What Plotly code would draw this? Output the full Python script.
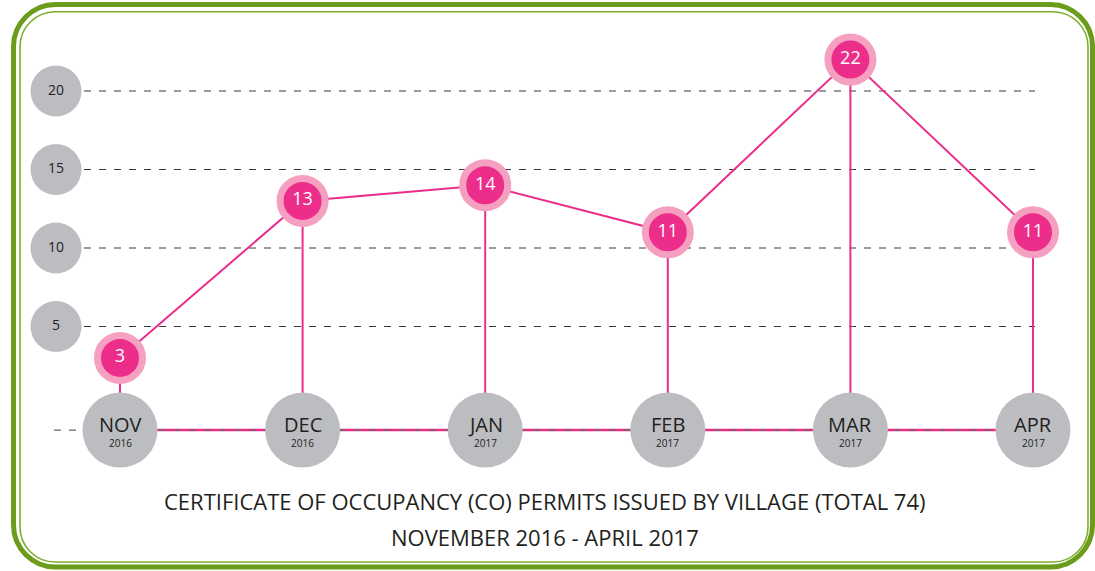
import plotly.graph_objects as go

# ---- data ----
months = ["NOV", "DEC", "JAN", "FEB", "MAR", "APR"]
years = ["2016", "2016", "2017", "2017", "2017", "2017"]
permits = [3, 13, 14, 11, 22, 11]
y_ticks = [5, 10, 15, 20]
title_1 = "CERTIFICATE OF OCCUPANCY (CO) PERMITS ISSUED BY VILLAGE (TOTAL 74)"
title_2 = "NOVEMBER 2016 - APRIL 2017"

# ---- layout constants ----
W, H = 1095, 571
X0_PX, X_STEP = 120.0, 182.6       # pixel centre of first category, step
Y0_PX, Y_STEP = 405.0, 15.7        # pixel of value 0, px per unit
BASE = -1.6                        # value level of category axis line

def px_to_x(px):
    return (px - X0_PX) / X_STEP

def py_to_y(py):
    return (Y0_PX - py) / Y_STEP

xs = list(range(len(months)))
PINK = "#EC2D8A"
PINK_LIGHT = "#F5A0C0"
GREY = "#BCBDC0"
DARK = "#231F20"
FONT = "Open Sans"

fig = go.Figure()

# stems
sx, sy = [], []
for x, v in zip(xs, permits):
    sx += [x, x, None]
    sy += [BASE, v, None]
fig.add_trace(go.Scatter(x=sx, y=sy, mode="lines", line=dict(color=PINK, width=2),
                         hoverinfo="skip", showlegend=False))
# connecting line
fig.add_trace(go.Scatter(x=xs, y=permits, mode="lines", line=dict(color=PINK, width=2),
                         hoverinfo="skip", showlegend=False))
# baseline pink
fig.add_trace(go.Scatter(x=[xs[0], xs[-1]], y=[BASE, BASE], mode="lines",
                         line=dict(color=PINK, width=2.5), hoverinfo="skip", showlegend=False))
# baseline dashed grey
fig.add_trace(go.Scatter(x=[px_to_x(54), xs[-1]], y=[BASE, BASE], mode="lines",
                         line=dict(color="#666666", width=1.2, dash="7px,8px"),
                         hoverinfo="skip", showlegend=False))
# category circles
fig.add_trace(go.Scatter(x=xs, y=[BASE] * len(xs), mode="markers",
                         marker=dict(size=75, color=GREY, line=dict(width=0)),
                         hoverinfo="skip", showlegend=False))
# y tick circles
fig.add_trace(go.Scatter(x=[px_to_x(56)] * len(y_ticks), y=y_ticks, mode="markers+text",
                         text=[str(t) for t in y_ticks], textposition="middle center",
                         textfont=dict(family=FONT, size=14, color=DARK),
                         marker=dict(size=51, color=GREY, line=dict(width=0)),
                         hoverinfo="skip", showlegend=False))
# points
fig.add_trace(go.Scatter(x=xs, y=permits, mode="markers+text",
                         text=[str(v) for v in permits], textposition="middle center",
                         textfont=dict(family=FONT, size=18, color="white"),
                         marker=dict(size=45, color=PINK, line=dict(width=7, color=PINK_LIGHT)),
                         hoverinfo="skip", showlegend=False))

# gridlines
shapes = []
for t in y_ticks:
    shapes.append(dict(type="line", xref="x", yref="y", x0=px_to_x(84), x1=px_to_x(1035),
                       y0=t, y1=t, layer="below",
                       line=dict(color="#3A3A3A", width=1.1, dash="7px,8px")))

# rounded frame
def rr_path(x0, y0, x1, y1, r):
    k = 0.45
    def p(x, y):
        return f"{x / W:.5f},{1 - y / H:.5f}"
    return (f"M {p(x0 + r, y0)} L {p(x1 - r, y0)} "
            f"C {p(x1 - r * k, y0)} {p(x1, y0 + r * k)} {p(x1, y0 + r)} "
            f"L {p(x1, y1 - r)} "
            f"C {p(x1, y1 - r * k)} {p(x1 - r * k, y1)} {p(x1 - r, y1)} "
            f"L {p(x0 + r, y1)} "
            f"C {p(x0 + r * k, y1)} {p(x0, y1 - r * k)} {p(x0, y1 - r)} "
            f"L {p(x0, y0 + r)} "
            f"C {p(x0, y0 + r * k)} {p(x0 + r * k, y0)} {p(x0 + r, y0)} Z")

shapes.append(dict(type="path", xref="paper", yref="paper", path=rr_path(13.5, 4.5, 1092.5, 567, 42),
                   line=dict(color="#6B9C1C", width=5), layer="above"))
shapes.append(dict(type="path", xref="paper", yref="paper", path=rr_path(20, 11.7, 1088, 562, 35),
                   line=dict(color="#7DAE2C", width=1.6), layer="above"))

annotations = []
for x, m, yr in zip(xs, months, years):
    annotations.append(dict(x=x, y=BASE, xref="x", yref="y", text=m, showarrow=False,
                            yshift=6, font=dict(family=FONT, size=20, color=DARK)))
    annotations.append(dict(x=x, y=BASE, xref="x", yref="y", text=yr, showarrow=False,
                            yshift=-13, font=dict(family=FONT, size=10, color=DARK)))
annotations.append(dict(x=545 / W, y=1 - 501 / H, xref="paper", yref="paper", text=title_1,
                        xanchor="center", yanchor="middle",
                        showarrow=False, font=dict(family=FONT, size=22, color=DARK)))
annotations.append(dict(x=545 / W, y=1 - 537 / H, xref="paper", yref="paper", text=title_2,
                        xanchor="center", yanchor="middle",
                        showarrow=False, font=dict(family=FONT, size=22, color=DARK)))

fig.update_layout(
    width=W, height=H,
    margin=dict(l=0, r=0, t=0, b=0),
    paper_bgcolor="white", plot_bgcolor="white",
    xaxis=dict(range=[px_to_x(0), px_to_x(W)], visible=False, fixedrange=True),
    yaxis=dict(range=[py_to_y(H), py_to_y(0)], visible=False, fixedrange=True),
    shapes=shapes, annotations=annotations,
    showlegend=False,
)

fig.write_html("out.html", config={"displayModeBar": False},
               post_script="document.body.style.margin='0';document.body.style.overflow='hidden';")
